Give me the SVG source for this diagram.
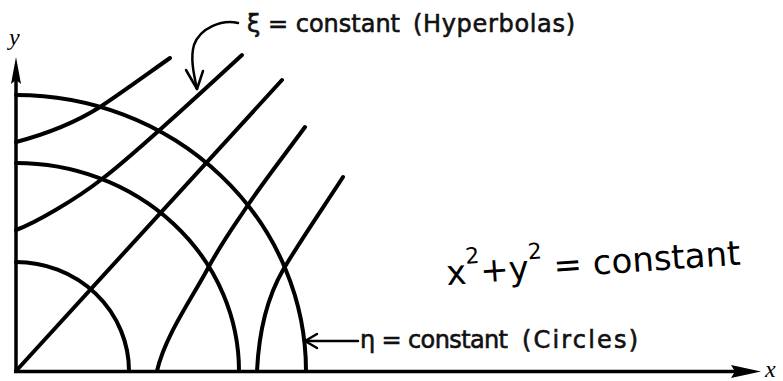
<svg xmlns="http://www.w3.org/2000/svg" width="783" height="381" viewBox="0 0 783 381">
<style>
.curve{fill:none;stroke:#000;stroke-width:4;stroke-linecap:round;stroke-linejoin:round}
.axis{fill:none;stroke:#000;stroke-width:3.5}
.thin{fill:none;stroke:#000;stroke-width:2.5;stroke-linecap:round;stroke-linejoin:round}
.lbl{font-family:"DejaVu Sans","Liberation Sans",sans-serif;font-size:24px;fill:#111;stroke:#111;stroke-width:0.6}
.axlbl{font-family:"Liberation Serif",serif;font-style:italic;font-size:24px;fill:#000}
.hand{font-family:"DejaVu Sans","Liberation Sans",sans-serif;font-size:34px;fill:#000;font-weight:normal}
</style>
<rect width="783" height="381" fill="#fff"/>
<g id="axes">
  <line class="axis" x1="16" y1="373" x2="16" y2="78"/>
  <polygon points="16,57 21,84 16,80 11,84" fill="#000"/>
  <line class="axis" x1="14" y1="371.5" x2="740" y2="371.5"/>
  <polygon points="761,371.5 731,365 735,371.5 731,378" fill="#000"/>
  <text class="axlbl" x="9" y="45">y</text>
  <text class="axlbl" x="765" y="377" font-size="22">x</text>
</g>
<g id="circles">
  <path class="curve" d="M16,262 A113,109 0 0 1 129,371"/>
  <path class="curve" d="M16,163 A223,208 0 0 1 239,371"/>
  <path class="curve" d="M16,95 A290,276 0 0 1 306,371"/>
</g>
<g id="hyperbolas">
  <path class="curve" d="M16,142 C35,137 70,126 100,107 C120,94 150,72 170,58"/>
  <path class="curve" d="M16,230 C35,223 75,200 102,179 C130,158 190,103 242,55"/>
  <line class="curve" x1="16" y1="371" x2="282" y2="80"/>
  <path class="curve" d="M157,371 C165,336 192,298 207,270 C222,242 232,229 248,205 C264,181 286,153 305,127"/>
  <path class="curve" d="M257,371 C259,330 268,296 283,270 C300,241 325,205 343,177"/>
</g>
<g id="connectors">
  <path class="thin" d="M238,23 C222,19 200,28 194,45 C190,58 194,75 197,89"/>
  <path class="thin" d="M186,70 L197,89 L203,71"/>
  <line class="thin" x1="306" y1="341" x2="358" y2="341"/>
  <path class="thin" d="M317,334 L305,341 L317,348"/>
</g>
<g id="label-xi">
  <text class="lbl" x="247" y="32" textLength="153">ξ = constant</text>
  <text class="lbl" x="413" y="32" textLength="162">(Hyperbolas)</text>
</g>
<g id="label-eta">
  <text class="lbl" x="360" y="348" textLength="148">η = constant</text>
  <text class="lbl" x="522" y="348" textLength="116">(Circles)</text>
</g>
<g id="handwritten">
  <text class="hand" transform="rotate(-4 447 285)" x="447" y="285">x<tspan dy="-20" font-size="22">2</tspan><tspan dy="20">+y</tspan><tspan dy="-20" font-size="22">2</tspan><tspan dy="20"> = constant</tspan></text>
</g>
</svg>
